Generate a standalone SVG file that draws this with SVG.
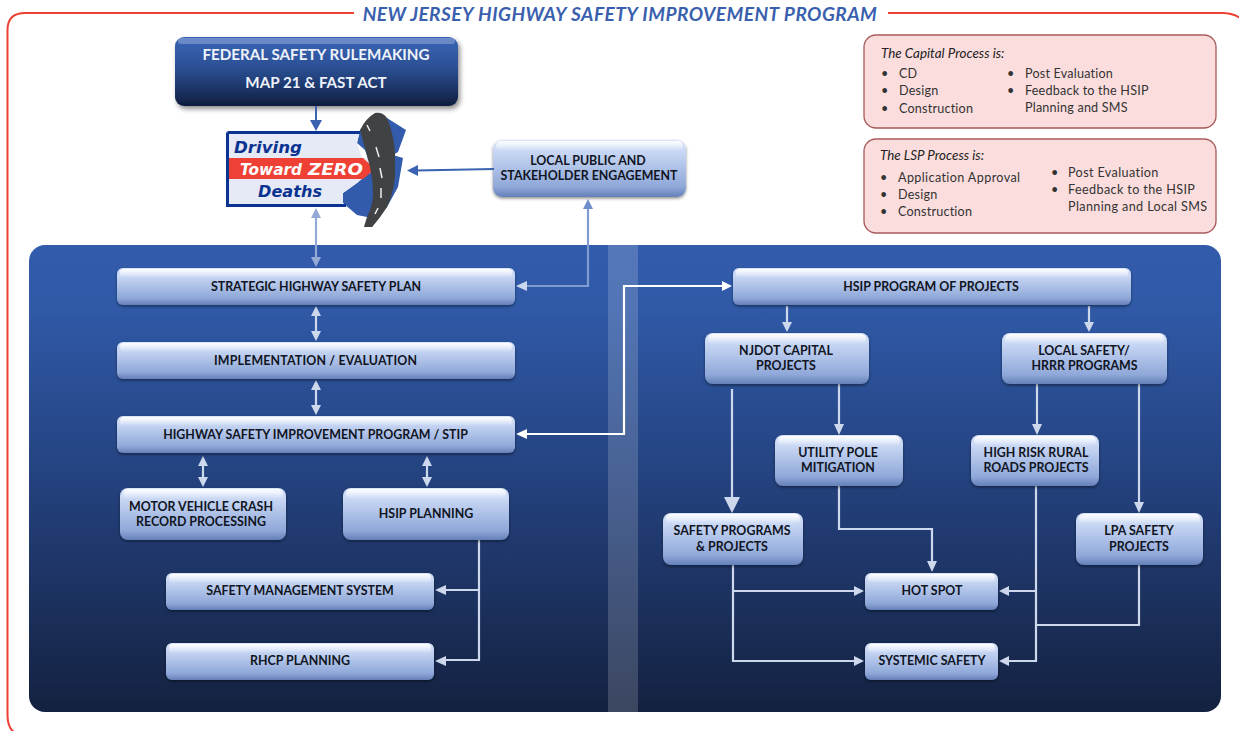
<svg xmlns="http://www.w3.org/2000/svg" width="1239" height="731" viewBox="0 0 1239 731">
<style>
text{font-family:"Lato","Carlito","Liberation Sans",sans-serif}
.l{font-size:12.4px;font-weight:700;fill:#10151f;text-anchor:middle}
.n{fill:url(#nodeGrad);filter:url(#sh)}
.gl{fill:url(#gloss)}
.c{fill:none;stroke:#cdd8ec;stroke-width:2.2}
.w{fill:none;stroke:#fff;stroke-width:2.2}
.p{fill:#fbdddd;stroke:#a85a5a;stroke-width:1.3}
.pt{font-size:12.6px;fill:#333;letter-spacing:.2px}
.pw{font-size:12.6px;fill:#333;letter-spacing:.38px}
.pi{font-size:13.4px;fill:#222;font-style:italic}
.a{fill:#cdd8ec}
text.logo{font-family:"DejaVu Sans","Liberation Sans",sans-serif;font-weight:700;font-style:italic;font-size:16px}
</style>
<defs>
<linearGradient id="nodeGrad" x1="0" y1="0" x2="0" y2="1"><stop offset="0" stop-color="#dbe5fa"/><stop offset=".18" stop-color="#cbd9f5"/><stop offset=".82" stop-color="#8fa8d9"/><stop offset="1" stop-color="#6480b8"/></linearGradient>
<linearGradient id="gloss" x1="0" y1="0" x2="0" y2="1"><stop offset="0" stop-color="#fff" stop-opacity=".95"/><stop offset="1" stop-color="#fff" stop-opacity="0"/></linearGradient>
<linearGradient id="panelGrad" x1="0" y1="0" x2="0" y2="1"><stop offset="0" stop-color="#325cab"/><stop offset=".12" stop-color="#305aa8"/><stop offset=".5" stop-color="#24427f"/><stop offset="1" stop-color="#142140"/></linearGradient>
<linearGradient id="fedGrad" x1="0" y1="0" x2="0" y2="1"><stop offset="0" stop-color="#3a66b8"/><stop offset=".45" stop-color="#2b4f93"/><stop offset=".85" stop-color="#172c58"/><stop offset="1" stop-color="#0e1c3c"/></linearGradient>
<filter id="sh" x="-10%" y="-20%" width="120%" height="150%"><feDropShadow dx="0" dy="1.5" stdDeviation="1.5" flood-color="#000" flood-opacity=".45"/></filter>
<filter id="sh2" x="-10%" y="-20%" width="120%" height="150%"><feDropShadow dx="2" dy="3" stdDeviation="2.5" flood-color="#000" flood-opacity=".45"/></filter>
</defs>
<rect width="1239" height="731" fill="#fff"/>

<g id="frame"><path d="M354 13H25Q7.500 13 7.500 30V715Q7.500 728 15 733M888 13H1222Q1233 13 1240 18" fill="none" stroke="#ee4035" stroke-width="2"/>
<text x="620" y="20.500" font-size="19.100" font-weight="700" font-style="italic" fill="#3a5fae" text-anchor="middle" letter-spacing=".45">NEW JERSEY HIGHWAY SAFETY IMPROVEMENT PROGRAM</text></g>

<g id="panel"><rect x="29" y="245" width="1192" height="467" rx="16" fill="url(#panelGrad)"/><rect x="608" y="245" width="30" height="467" fill="#fff" fill-opacity=".17"/></g>

<g id="logo">
<path d="M387 118L406 130L398 152L393 155L403 158L398 187L387 207L372 227L367 217L357 215L343 203V193L357 183L362 178L372 170L365 150L357 143L360 130Z" fill="#325cab"/>
<path d="M226 131H360L357 143L362 158H372L375 169L362 179L357 183L343 193V203L347 207H226Z" fill="#e6eaf6"/>
<path d="M227.500 132.500H360M227.500 132.500V205.500H346" fill="none" stroke="#0b3391" stroke-width="3"/>
<path d="M229 158H363L375 169L363 179H229Z" fill="#ee4035"/>
<path d="M360 130Q366 118 375 113Q383 112 387 118Q394 135 395 153V177Q393 195 387 207Q380 218 372 227H364Q366 220 367 217Q373 205 373 193Q373 180 370 167Q365 148 360 130Z" fill="#414244"/>
<path d="M367 125L370 131M376 147L379 157M380 168L382 178M381 188V198M378 208L375 214" fill="none" stroke="#eee" stroke-width="1.500"/>
<text class="logo" x="234" y="152.500" fill="#0b3391" textLength="68" lengthAdjust="spacingAndGlyphs">Driving</text>
<text class="logo" x="240" y="174.500" fill="#fff" textLength="62" lengthAdjust="spacingAndGlyphs">Toward</text>
<text class="logo" x="308" y="175" fill="#fff" font-size="18" textLength="55" lengthAdjust="spacingAndGlyphs">ZERO</text>
<text class="logo" x="258" y="196.500" fill="#0b3391" textLength="64" lengthAdjust="spacingAndGlyphs">Deaths</text>
</g>

<g id="node-federal"><rect x="175" y="37" width="283" height="69" rx="9" fill="url(#fedGrad)" filter="url(#sh2)"/><rect x="178" y="38" width="277" height="6" rx="3" fill="#fff" fill-opacity=".25"/><text x="316" y="60" text-anchor="middle" font-size="15.200" font-weight="700" fill="#eef2fa">FEDERAL SAFETY RULEMAKING</text><text x="316" y="88" text-anchor="middle" font-size="15.200" font-weight="700" fill="#eef2fa">MAP 21 &amp; FAST ACT</text></g>

<g id="node-local-public"><rect class="n" x="493" y="140" width="193" height="57" rx="9"/><rect class="gl" x="496" y="141" width="187" height="10" rx="5"/><text class="l" x="588" y="164.500">LOCAL PUBLIC AND</text><text class="l" x="589" y="180">STAKEHOLDER ENGAGEMENT</text></g>

<g id="capital-process"><rect class="p" x="864" y="35" width="352" height="93" rx="12"/>
<text class="pi" x="881" y="57.500">The Capital Process is:</text>
<text class="pt" x="881" y="78">•</text><text class="pt" x="899" y="78">CD</text>
<text class="pt" x="881" y="95">•</text><text class="pt" x="899" y="95">Design</text>
<text class="pt" x="881" y="112.500">•</text><text class="pt" x="899" y="112.500">Construction</text>
<text class="pt" x="1007" y="78">•</text><text class="pt" x="1025" y="78">Post Evaluation</text>
<text class="pt" x="1007" y="94.500">•</text><text class="pt" x="1025" y="94.500">Feedback to the HSIP</text>
<text class="pt" x="1025" y="112">Planning and SMS</text></g>

<g id="lsp-process"><rect class="p" x="864" y="139" width="352" height="94" rx="12"/>
<text class="pi" x="880" y="160">The LSP Process is:</text>
<text class="pw" x="880" y="182">•</text><text class="pw" x="898" y="182">Application Approval</text>
<text class="pt" x="880" y="199">•</text><text class="pt" x="898" y="199">Design</text>
<text class="pt" x="880" y="215.500">•</text><text class="pt" x="898" y="215.500">Construction</text>
<text class="pw" x="1051" y="177">•</text><text class="pw" x="1068" y="177">Post Evaluation</text>
<text class="pw" x="1051" y="194">•</text><text class="pw" x="1068" y="194">Feedback to the HSIP</text>
<text class="pw" x="1068" y="211">Planning and Local SMS</text></g>

<g id="connectors">
<path d="M316 106V124" fill="none" stroke="#3a62b0" stroke-width="2"/><path d="M310 120H322L316 131Z" fill="#3a62b0"/>
<path d="M494 169L416 170.500" fill="none" stroke="#3a62b0" stroke-width="2"/><path d="M407 170.500L418 165V176Z" fill="#3a62b0"/>
<path d="M316 214V261" fill="none" stroke="#93a9d6" stroke-width="2.200"/><path d="M316 208L321 218H311ZM316 267L311 257H321Z" fill="#93a9d6"/>
<path d="M588 206V286H524" fill="none" stroke="#7f9bd0" stroke-width="2.200"/><path d="M588 199L593 209H583Z" fill="#6f8ecb"/><path d="M516 286L527 281V291Z" fill="#cdd8ec"/>
<path d="M316 312V336M316 386V410M203 462V482M427 462V482" class="c"/>
<path class="a" d="M316 306L321 316H311ZM316 341L311 331H321ZM316 380L321 390H311ZM316 415L311 405H321ZM203 456L208 466H198ZM203 487L198 477H208ZM427 456L432 466H422ZM427 487L422 477H432Z"/>
<path class="w" d="M725 286H624V434H524"/><path fill="#fff" d="M732 286L722 281V291ZM516 434L527 429V439Z"/>
<path class="c" d="M479 540V660H444M479 590H444"/><path class="a" d="M435 590L446 585V595ZM435 661L446 656V666Z"/>
<path class="c" d="M787 306V326M1089 306V326M839 384V428M1037 384V428M732 389V498M1139 384V504"/>
<path class="a" d="M787 332L782 322H792ZM1089 332L1084 322H1094ZM839 435L834 424H844ZM1037 435L1032 424H1042ZM732 513L724 497H740ZM1139 513L1134 502H1144Z"/>
<path class="c" d="M839 486V529H932V565M733 565V661H857M733 591H857M1036 486V661H1006M1036 591H1006M1037 625H1139V565"/>
<path class="a" d="M932 572L927 561H937ZM864 591L854 586V596ZM864 661L854 656V666ZM999 591L1009 586V596ZM999 661L1009 656V666Z"/>
</g>

<g id="node-strategic"><rect class="n" x="117" y="268" width="398" height="37" rx="6"/><rect class="gl" x="120" y="269" width="392" height="9" rx="4"/><text class="l" x="316" y="290.500">STRATEGIC HIGHWAY SAFETY PLAN</text></g>
<g id="node-implementation"><rect class="n" x="117" y="342" width="398" height="37" rx="6"/><rect class="gl" x="120" y="343" width="392" height="9" rx="4"/><text class="l" x="315.500" y="364.500" textLength="203">IMPLEMENTATION / EVALUATION</text></g>
<g id="node-hsip-stip"><rect class="n" x="117" y="416" width="398" height="37" rx="6"/><rect class="gl" x="120" y="417" width="392" height="9" rx="4"/><text class="l" x="315.500" y="438.500">HIGHWAY SAFETY IMPROVEMENT PROGRAM / STIP</text></g>
<g id="node-mvc"><rect class="n" x="120" y="488" width="166" height="52" rx="8"/><rect class="gl" x="123" y="489" width="160" height="10" rx="5"/><text class="l" x="201" y="510.500">MOTOR VEHICLE CRASH</text><text class="l" x="201" y="526">RECORD PROCESSING</text></g>
<g id="node-hsip-planning"><rect class="n" x="343" y="488" width="166" height="52" rx="8"/><rect class="gl" x="346" y="489" width="160" height="10" rx="5"/><text class="l" x="426" y="518">HSIP PLANNING</text></g>
<g id="node-sms"><rect class="n" x="166" y="573" width="268" height="37" rx="6"/><rect class="gl" x="169" y="574" width="262" height="9" rx="4"/><text class="l" x="300" y="595">SAFETY MANAGEMENT SYSTEM</text></g>
<g id="node-rhcp"><rect class="n" x="166" y="643" width="268" height="37" rx="6"/><rect class="gl" x="169" y="644" width="262" height="9" rx="4"/><text class="l" x="300" y="665">RHCP PLANNING</text></g>
<g id="node-hsip-pop"><rect class="n" x="733" y="268" width="398" height="37" rx="6"/><rect class="gl" x="736" y="269" width="392" height="9" rx="4"/><text class="l" x="931" y="290.500">HSIP PROGRAM OF PROJECTS</text></g>
<g id="node-njdot"><rect class="n" x="705" y="333" width="164" height="51" rx="8"/><rect class="gl" x="708" y="334" width="158" height="10" rx="5"/><text class="l" x="786" y="354.500">NJDOT CAPITAL</text><text class="l" x="786" y="370">PROJECTS</text></g>
<g id="node-local-safety"><rect class="n" x="1002" y="333" width="165" height="51" rx="8"/><rect class="gl" x="1005" y="334" width="159" height="10" rx="5"/><text class="l" x="1084" y="354.500">LOCAL SAFETY/</text><text class="l" x="1084.500" y="370">HRRR PROGRAMS</text></g>
<g id="node-utility"><rect class="n" x="775" y="435" width="128" height="51" rx="8"/><rect class="gl" x="778" y="436" width="122" height="10" rx="5"/><text class="l" x="838" y="456.500">UTILITY POLE</text><text class="l" x="838" y="472">MITIGATION</text></g>
<g id="node-high-risk"><rect class="n" x="971" y="435" width="128" height="51" rx="8"/><rect class="gl" x="974" y="436" width="122" height="10" rx="5"/><text class="l" x="1036" y="456.500">HIGH RISK RURAL</text><text class="l" x="1036" y="472">ROADS PROJECTS</text></g>
<g id="node-safety-programs"><rect class="n" x="663" y="513" width="140" height="52" rx="8"/><rect class="gl" x="666" y="514" width="134" height="10" rx="5"/><text class="l" x="732" y="535">SAFETY PROGRAMS</text><text class="l" x="732" y="550.500">&amp; PROJECTS</text></g>
<g id="node-lpa"><rect class="n" x="1076" y="513" width="127" height="52" rx="8"/><rect class="gl" x="1079" y="514" width="121" height="10" rx="5"/><text class="l" x="1139" y="535">LPA SAFETY</text><text class="l" x="1139" y="550.500">PROJECTS</text></g>
<g id="node-hot-spot"><rect class="n" x="865" y="573" width="133" height="37" rx="6"/><rect class="gl" x="868" y="574" width="127" height="9" rx="4"/><text class="l" x="932" y="595">HOT SPOT</text></g>
<g id="node-systemic"><rect class="n" x="865" y="643" width="133" height="37" rx="6"/><rect class="gl" x="868" y="644" width="127" height="9" rx="4"/><text class="l" x="932" y="665">SYSTEMIC SAFETY</text></g>
</svg>
